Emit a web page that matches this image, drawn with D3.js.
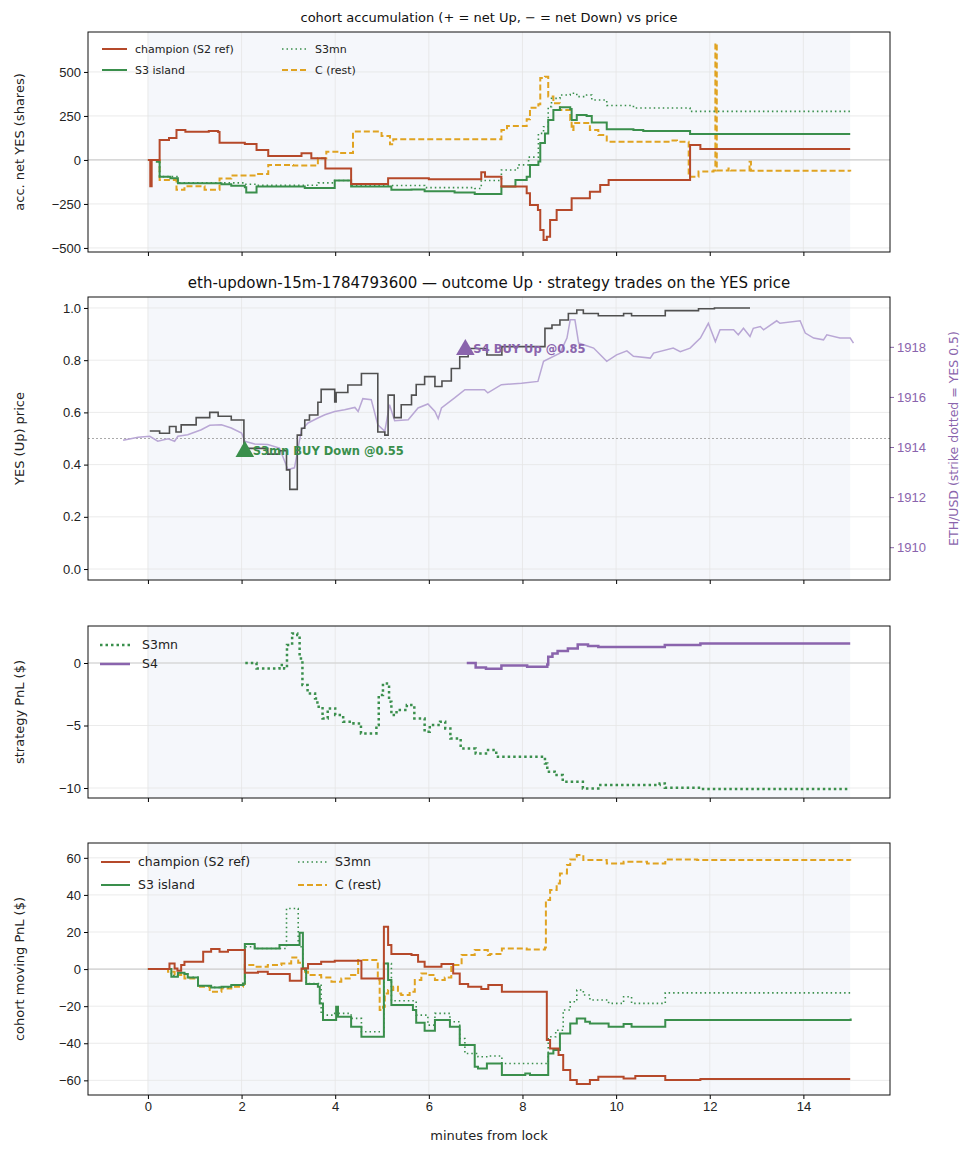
<!DOCTYPE html>
<html>
<head>
<meta charset="utf-8">
<script src="https://cdn.jsdelivr.net/npm/d3@7"></script>
<style>
  body { margin: 0; background: #fff; }
  svg { font-family: "DejaVu Sans", sans-serif; }
</style>
</head>
<body>
<svg id="chart" width="973" height="1156"></svg>
<script>
// ---- data: [minutes from lock, value] ----
const accChampion = [[0,0],[0.05,-150],[0.08,0],[0.25,114],[0.45,125],[0.61,170],[0.8,160],[1.0,160],[1.3,165],[1.5,159],[1.53,98],[2.07,91],[2.32,57],[2.57,23],[3.28,38],[3.49,9],[3.79,-48],[4.34,-136],[5.13,-104],[6.0,-110],[7.12,-70],[7.2,-95],[7.55,-151],[8.09,-189],[8.16,-256],[8.33,-284],[8.38,-398],[8.45,-455],[8.52,-436],[8.59,-341],[8.73,-284],[9.05,-218],[9.44,-180],[9.66,-142],[9.84,-114],[11.58,85],[11.8,62],[15,62]];
const accS3 = [[0,0],[0.19,-10],[0.25,-95],[0.48,-104],[0.64,-133],[1.57,-138],[1.78,-147],[2.07,-155],[2.1,-185],[2.32,-151],[3.35,-160],[3.99,-117],[4.34,-151],[5.2,-170],[5.63,-168],[5.91,-178],[6.55,-185],[6.98,-194],[7.55,-151],[7.85,-114],[8.09,-95],[8.16,-28],[8.34,-9],[8.38,96],[8.48,151],[8.55,227],[8.66,284],[8.8,299],[9.02,290],[9.05,227],[9.16,256],[9.37,250],[9.48,213],[9.8,174],[10.37,170],[10.58,165],[11.58,148],[15,148]];
const accS3mn = [[0,0],[0.19,-5],[0.25,-95],[0.64,-130],[2.07,-138],[2.32,-144],[3.64,-130],[3.99,-117],[4.34,-145],[5.2,-145],[5.91,-157],[6.98,-162],[7.12,-117],[7.55,-57],[7.9,-28],[8.13,16],[8.34,151],[8.45,189],[8.55,303],[8.62,350],[8.8,369],[9.02,379],[9.16,360],[9.37,369],[9.48,341],[9.8,309],[10.37,295],[11.58,276],[15,276]];
const accC = [[0,0],[0.25,-114],[0.61,-170],[0.78,-150],[1.21,-170],[1.53,-105],[1.78,-88],[2.3,-80],[2.57,-28],[3.1,-32],[3.63,9],[3.81,47],[4.1,40],[4.38,161],[4.99,136],[5.17,89],[5.24,117],[7.12,117],[7.55,170],[7.67,193],[8.09,231],[8.16,297],[8.34,316],[8.38,466],[8.48,473],[8.55,360],[8.66,322],[8.8,284],[9.02,227],[9.05,170],[9.09,210],[9.44,170],[9.62,142],[9.8,104],[11.15,110],[11.3,104],[11.55,-95],[11.76,-66],[12.01,-66],[12.08,-60],[12.12,663],[12.15,-60],[12.4,-48],[12.45,-60],[12.85,-10],[12.88,-62],[15,-66]];

const yesPrice = [[0.04,0.529],[0.25,0.52],[0.46,0.546],[0.6,0.525],[0.71,0.552],[1.03,0.58],[1.32,0.6],[1.5,0.585],[1.78,0.571],[2.05,0.462],[2.56,0.44],[2.81,0.453],[2.96,0.38],[3.03,0.305],[3.19,0.513],[3.28,0.539],[3.35,0.571],[3.45,0.59],[3.63,0.639],[3.7,0.688],[3.99,0.64],[4.02,0.676],[4.27,0.705],[4.56,0.749],[4.91,0.525],[5.06,0.513],[5.13,0.666],[5.26,0.58],[5.41,0.629],[5.63,0.666],[5.73,0.707],[5.91,0.737],[6.13,0.699],[6.28,0.72],[6.48,0.768],[6.66,0.813],[6.84,0.845],[7.24,0.82],[7.56,0.852],[8.16,0.852],[8.48,0.922],[8.63,0.935],[8.8,0.954],[8.98,0.979],[9.16,0.992],[9.3,0.979],[9.62,0.97],[10.16,0.979],[10.33,0.97],[11.05,0.99],[11.76,0.997],[12.1,1.0],[12.86,1.0]];
const ethUsd = [[-0.53,1914.27],[-0.21,1914.39],[0.04,1914.43],[0.21,1914.23],[0.43,1914.33],[0.57,1914.23],[0.64,1914.43],[0.85,1914.49],[1.14,1914.69],[1.32,1914.87],[1.57,1914.89],[1.78,1914.76],[2.0,1914.56],[2.07,1914.23],[2.28,1914.12],[2.56,1914.1],[2.81,1913.96],[2.99,1913.1],[3.13,1913.17],[3.28,1914.69],[3.42,1914.96],[3.63,1915.16],[3.78,1915.29],[3.99,1915.42],[4.2,1915.49],[4.42,1915.58],[4.49,1915.42],[4.59,1915.93],[4.77,1915.89],[4.91,1914.89],[5.06,1914.63],[5.16,1915.69],[5.27,1915.05],[5.56,1915.09],[5.77,1915.56],[5.98,1915.72],[6.13,1915.42],[6.2,1915.13],[6.27,1915.56],[6.55,1915.96],[6.77,1916.29],[7.19,1916.29],[7.26,1916.16],[7.55,1916.49],[7.98,1916.55],[8.33,1916.62],[8.45,1917.42],[8.8,1917.75],[8.95,1918.35],[9.02,1919.08],[9.12,1919.08],[9.2,1918.15],[9.52,1917.95],[9.8,1917.42],[10.01,1917.68],[10.23,1917.84],[10.37,1917.62],[10.73,1917.55],[10.8,1917.75],[11.22,1917.95],[11.37,1917.81],[11.58,1917.95],[11.8,1918.35],[11.97,1918.94],[12.12,1918.21],[12.22,1918.68],[12.51,1918.68],[12.61,1918.48],[12.72,1918.74],[12.86,1918.41],[12.93,1918.74],[13.08,1918.81],[13.15,1918.68],[13.43,1919.04],[13.5,1918.94],[13.93,1919.04],[14.04,1918.55],[14.22,1918.35],[14.43,1918.28],[14.5,1918.48],[14.78,1918.35],[15.0,1918.35],[15.07,1918.15]];
const trades = [
  { t: 2.07, price: 0.45, label: "S3mn BUY Down @0.55", color: "#3a8f4c" },
  { t: 6.78, price: 0.84, label: "S4 BUY Up @0.85", color: "#8a64ad" }
];

const pnlS3mn = [[2.08,0],[2.32,-0.43],[2.81,-0.16],[2.91,-0.43],[2.97,1.44],[3.08,2.37],[3.19,2.24],[3.24,0.37],[3.3,-1.76],[3.41,-2.43],[3.57,-2.83],[3.62,-3.49],[3.73,-4.43],[3.84,-3.63],[4.0,-4.16],[4.17,-4.69],[4.39,-4.83],[4.55,-5.63],[4.82,-5.63],[4.88,-4.96],[4.93,-2.56],[5.02,-1.63],[5.15,-3.09],[5.2,-4.16],[5.31,-3.76],[5.53,-3.36],[5.69,-4.43],[5.91,-5.49],[6.02,-4.96],[6.24,-4.69],[6.35,-5.23],[6.46,-6.03],[6.68,-6.83],[7.0,-7.23],[7.22,-6.96],[7.44,-7.49],[8.31,-7.49],[8.48,-8.03],[8.53,-8.69],[8.69,-8.96],[8.86,-9.49],[9.29,-10.03],[9.62,-9.76],[10.93,-9.63],[11.04,-9.97],[11.8,-10.08],[14.96,-10.11]];
const pnlS4 = [[6.81,0],[7.0,-0.35],[7.22,-0.45],[7.55,-0.19],[8.1,-0.29],[8.53,-0.11],[8.55,0.51],[8.64,0.77],[8.75,0.96],[8.97,1.17],[9.18,1.49],[9.4,1.36],[9.62,1.28],[10.27,1.28],[11.04,1.44],[11.8,1.57],[15.0,1.57]];

const mpChampion = [[0,0],[0.46,3.05],[0.57,0.36],[0.63,-0.9],[0.71,2.16],[0.78,3.95],[1.18,9.34],[1.35,10.78],[1.53,9.34],[1.71,10.24],[2.07,-1.98],[2.35,-1.44],[2.56,-2.7],[3.03,-6.29],[3.28,0.36],[3.42,2.7],[3.7,3.95],[3.99,4.49],[4.34,4.49],[4.56,-5.03],[5.04,22.82],[5.13,12.94],[5.2,8.09],[5.63,7.55],[5.77,3.95],[5.91,1.26],[6.27,2.7],[6.52,-2.34],[6.66,-8.09],[6.84,-9.52],[7.12,-10.78],[7.27,-8.63],[7.56,-12.22],[8.52,-38.27],[8.59,-42.76],[8.77,-46.36],[8.87,-54.45],[9.02,-59.84],[9.16,-62],[9.44,-59.84],[9.62,-58.04],[10.16,-58.94],[10.41,-57.68],[11.05,-59.84],[11.8,-59.3],[15,-59.3]];
const mpS3 = [[0,0],[0.5,-4.13],[0.64,-1.98],[0.78,-2.7],[0.85,-4.49],[1.07,-8.98],[1.35,-9.88],[1.57,-9.52],[1.78,-8.63],[2.03,-7.73],[2.07,13.48],[2.28,11.14],[2.81,12.94],[3.24,19.59],[3.31,0.36],[3.38,-8.09],[3.63,-9.52],[3.67,-18.51],[3.74,-27.49],[3.99,-27.49],[4.02,-20.31],[4.06,-25.7],[4.34,-31.09],[4.56,-36.48],[5.02,-36.48],[5.04,3.05],[5.13,-5.93],[5.2,-19.41],[5.66,-22.1],[5.73,-28.93],[5.91,-33.24],[6.13,-27.49],[6.45,-31.09],[6.66,-40.97],[6.98,-52.65],[7.05,-53.55],[7.24,-50.85],[7.56,-57.14],[8.06,-56.24],[8.16,-57.14],[8.55,-45.46],[8.66,-43.67],[8.8,-34.68],[9.02,-29.29],[9.16,-26.6],[9.34,-28.4],[9.44,-29.29],[9.84,-31.09],[10.16,-29.65],[10.33,-31.09],[11.05,-27.49],[15,-27.49],[15.01,-26.6]];
const mpS3mn = [[0,0],[0.5,-3.5],[0.64,-1.98],[0.85,-4.49],[1.07,-8.98],[1.35,-9.88],[1.78,-8.63],[2.07,12.04],[2.28,11.14],[2.96,32.7],[3.21,12.04],[3.31,-0.54],[3.38,-7.73],[3.7,-24.8],[3.99,-23.9],[4.34,-26.6],[4.56,-33.8],[5.02,-33.8],[5.04,3.05],[5.2,-17.1],[5.73,-24.8],[5.98,-30.2],[6.13,-23.9],[6.45,-28.4],[6.66,-37.4],[6.77,-45.5],[7.05,-47.3],[7.26,-46.9],[7.56,-50.9],[8.52,-50.9],[8.55,-36.5],[8.71,-33.0],[8.87,-22.1],[9.02,-17.6],[9.16,-11.3],[9.3,-14.0],[9.44,-16.7],[9.84,-18.5],[10.16,-14.9],[10.33,-18.5],[11.05,-12.8],[15,-12.2]];
const mpC = [[0,0],[0.43,-1.44],[0.57,-3.23],[0.71,-2.34],[0.78,-5.03],[1.07,-9.52],[1.32,-12.22],[1.57,-10.42],[1.78,-9.52],[2.03,-8.09],[2.07,2.16],[2.28,1.26],[2.56,2.16],[2.85,3.05],[3.06,6.29],[3.21,3.41],[3.31,-1.44],[3.42,-3.23],[3.7,-4.49],[3.92,-6.83],[4.13,-5.03],[4.34,-3.23],[4.49,4.85],[4.77,4.85],[4.91,-5.93],[4.95,-22.1],[5.02,-20.3],[5.06,-13.1],[5.13,-11.3],[5.24,-9.52],[5.34,-13.1],[5.41,-14.0],[5.59,-12.22],[5.7,-5.93],[5.84,-2.34],[5.98,-3.23],[6.13,-5.93],[6.34,-4.49],[6.48,2.16],[6.7,7.55],[6.98,10.24],[7.26,7.55],[7.31,8.09],[7.56,11.14],[8.09,10.6],[8.48,11.68],[8.5,37.2],[8.59,42.6],[8.73,46.2],[8.8,51.6],[8.95,56.1],[9.02,59.1],[9.16,61.5],[9.3,58.8],[9.8,57.0],[10.16,57.9],[10.66,57.0],[11.05,59.1],[11.73,58.8],[15,58.4]];

const xTicks = [0, 2, 4, 6, 8, 10, 12, 14];
const cohorts = [
  { name: "champion (S2 ref)", color: "#b5492a", dash: null },
  { name: "S3 island", color: "#3a8f4c", dash: null },
  { name: "S3mn", color: "#3a8f4c", dash: "1.5,3" },
  { name: "C (rest)", color: "#e0a321", dash: "6,3" }
];

// ---- layout ----
const svg = d3.select("#chart");
const L = 88, R = 890;
const x = d3.scaleLinear().domain([-1.28, 15.85]).range([L, R]);
const step = d3.line().curve(d3.curveStepAfter);
const lin = d3.line();

const panels = [
  { top: 32, bottom: 252, domain: [-523, 727], ticks: [-500, -250, 0, 250, 500], label: "acc. net YES (shares)" },
  { top: 297, bottom: 580, domain: [-0.042, 1.042], ticks: [0, 0.2, 0.4, 0.6, 0.8, 1.0], label: "YES (Up) price", fmt: d3.format(".1f") },
  { top: 626, bottom: 798, domain: [-10.8, 2.96], ticks: [-10, -5, 0], label: "strategy PnL ($)" },
  { top: 843, bottom: 1095, domain: [-67.9, 68], ticks: [-60, -40, -20, 0, 20, 40, 60], label: "cohort moving PnL ($)" }
];

panels.forEach((p, i) => {
  const y = d3.scaleLinear().domain(p.domain).range([p.bottom, p.top]);
  p.y = y;
  const g = svg.append("g");
  p.g = g;
  g.append("rect").attr("x", x(0)).attr("width", x(15) - x(0))
    .attr("y", p.top).attr("height", p.bottom - p.top).attr("fill", "#f5f7fb");
  // grid
  g.selectAll(".gx").data(xTicks).join("line")
    .attr("x1", d => x(d)).attr("x2", d => x(d)).attr("y1", p.top).attr("y2", p.bottom)
    .attr("stroke", "#e6e6e6").attr("stroke-width", 0.8);
  g.selectAll(".gy").data(p.ticks).join("line")
    .attr("x1", L).attr("x2", R).attr("y1", d => y(d)).attr("y2", d => y(d))
    .attr("stroke", "#e6e6e6").attr("stroke-width", 0.8);
  if (i !== 1) {
    g.append("line").attr("x1", L).attr("x2", R).attr("y1", y(0)).attr("y2", y(0))
      .attr("stroke", "#cfcfcf").attr("stroke-width", 1.2);
  }
  const ax = g.append("g").attr("transform", `translate(0,${p.bottom})`)
    .call(d3.axisBottom(x).tickValues(xTicks).tickSize(4).tickFormat(i === 3 ? d3.format("d") : ""));
  const ay = g.append("g").attr("transform", `translate(${L},0)`)
    .call(d3.axisLeft(y).tickValues(p.ticks).tickSize(4).tickFormat(p.fmt || (d => d < 0 ? "\u2212" + Math.abs(d) : d)));
  [ax, ay].forEach(a => {
    a.select(".domain").remove();
    a.selectAll("text").attr("font-size", 13).attr("fill", "#222");
  });
  g.append("text").attr("transform", `translate(24,${(p.top + p.bottom) / 2}) rotate(-90)`)
    .attr("text-anchor", "middle").attr("font-size", 13).attr("fill", "#222").text(p.label);
});

function drawCohorts(p, sets) {
  const y = p.y;
  const clip = "clip" + p.top;
  svg.append("clipPath").attr("id", clip).append("rect")
    .attr("x", L).attr("y", p.top).attr("width", R - L).attr("height", p.bottom - p.top);
  const g = p.g.append("g").attr("clip-path", `url(#${clip})`);
  [3, 2, 1, 0].forEach(k => {
    g.append("path").attr("d", step(sets[k].map(d => [x(d[0]), y(d[1])])))
      .attr("fill", "none").attr("stroke", cohorts[k].color)
      .attr("stroke-width", k === 2 ? 1.6 : 2).attr("stroke-dasharray", cohorts[k].dash);
  });
}
drawCohorts(panels[0], [accChampion, accS3, accS3mn, accC]);
drawCohorts(panels[3], [mpChampion, mpS3, mpS3mn, mpC]);

function legend(p, x0, y0, colW, rowH, fs, len) {
  const order = [0, 2, 1, 3];
  order.forEach((k, j) => {
    const col = j % 2, row = Math.floor(j / 2);
    const lx = x0 + col * colW, ly = y0 + row * rowH;
    p.g.append("line").attr("x1", lx).attr("x2", lx + len).attr("y1", ly).attr("y2", ly)
      .attr("stroke", cohorts[k].color).attr("stroke-width", k === 2 ? 1.6 : 2)
      .attr("stroke-dasharray", cohorts[k].dash);
    p.g.append("text").attr("x", lx + len + 8).attr("y", ly + 4).attr("font-size", fs)
      .attr("fill", "#222").text(cohorts[k].name);
  });
}
legend(panels[0], 102, 49, 180, 21, 11, 25);
legend(panels[3], 101, 862, 197, 23, 12.5, 29);

// panel 2: price
{
  const p = panels[1], y = p.y;
  const yR = d3.scaleLinear().domain([1908.69, 1919.99]).range([p.bottom, p.top]);
  const ar = p.g.append("g").attr("transform", `translate(${R},0)`)
    .call(d3.axisRight(yR).tickValues([1910, 1912, 1914, 1916, 1918]).tickSize(4).tickFormat(d3.format("d")));
  ar.select(".domain").remove();
  ar.selectAll("line").attr("stroke", "#8a64ad");
  ar.selectAll("text").attr("font-size", 13).attr("fill", "#8a64ad");
  p.g.append("text").attr("transform", `translate(958,${(p.top + p.bottom) / 2}) rotate(-90)`)
    .attr("text-anchor", "middle").attr("font-size", 12.5).attr("fill", "#8a64ad")
    .text("ETH/USD (strike dotted = YES 0.5)");
  p.g.append("line").attr("x1", L).attr("x2", R).attr("y1", y(0.5)).attr("y2", y(0.5))
    .attr("stroke", "#aaa").attr("stroke-width", 1).attr("stroke-dasharray", "2,2");
  p.g.append("path").attr("d", lin(ethUsd.map(d => [x(d[0]), yR(d[1])])))
    .attr("fill", "none").attr("stroke", "#b9a7d5").attr("stroke-width", 1.5);
  p.g.append("path").attr("d", step(yesPrice.map(d => [x(d[0]), y(d[1])])))
    .attr("fill", "none").attr("stroke", "#505050").attr("stroke-width", 1.6);
  trades.forEach(tr => {
    p.g.append("path").attr("d", d3.symbol(d3.symbolTriangle, 150)())
      .attr("transform", `translate(${x(tr.t)},${y(tr.price)})`).attr("fill", tr.color);
    p.g.append("text").attr("x", x(tr.t) + 8).attr("y", y(tr.price) + 10 - 0.12 * 52)
      .attr("font-size", 11.5).attr("font-weight", "bold").attr("fill", tr.color).text(tr.label);
  });
}

// panel 3: strategy PnL
{
  const p = panels[2], y = p.y;
  p.g.append("path").attr("d", step(pnlS3mn.map(d => [x(d[0]), y(d[1])])))
    .attr("fill", "none").attr("stroke", "#3a8f4c").attr("stroke-width", 2.5).attr("stroke-dasharray", "2.5,3");
  p.g.append("path").attr("d", step(pnlS4.map(d => [x(d[0]), y(d[1])])))
    .attr("fill", "none").attr("stroke", "#8a64ad").attr("stroke-width", 2.5);
  [["S3mn", "#3a8f4c", "2.5,3"], ["S4", "#8a64ad", null]].forEach((s, j) => {
    const ly = 645 + j * 19;
    p.g.append("line").attr("x1", 100).attr("x2", 130).attr("y1", ly).attr("y2", ly)
      .attr("stroke", s[1]).attr("stroke-width", 2.5).attr("stroke-dasharray", s[2]);
    p.g.append("text").attr("x", 142).attr("y", ly + 4).attr("font-size", 12.5).attr("fill", "#222").text(s[0]);
  });
}

// frames and titles
panels.forEach(p => {
  svg.append("rect").attr("x", L).attr("y", p.top).attr("width", R - L).attr("height", p.bottom - p.top)
    .attr("fill", "none").attr("stroke", "#111").attr("stroke-width", 1);
});
svg.append("text").attr("x", (L + R) / 2).attr("y", 22).attr("text-anchor", "middle")
  .attr("font-size", 13).attr("fill", "#111")
  .text("cohort accumulation (+ = net Up, \u2212 = net Down) vs price");
svg.append("text").attr("x", (L + R) / 2).attr("y", 288).attr("text-anchor", "middle")
  .attr("font-size", 15).attr("fill", "#111")
  .text("eth-updown-15m-1784793600 \u2014 outcome Up \u00b7 strategy trades on the YES price");
svg.append("text").attr("x", (L + R) / 2).attr("y", 1140).attr("text-anchor", "middle")
  .attr("font-size", 13).attr("fill", "#222").text("minutes from lock");
</script>
</body>
</html>
